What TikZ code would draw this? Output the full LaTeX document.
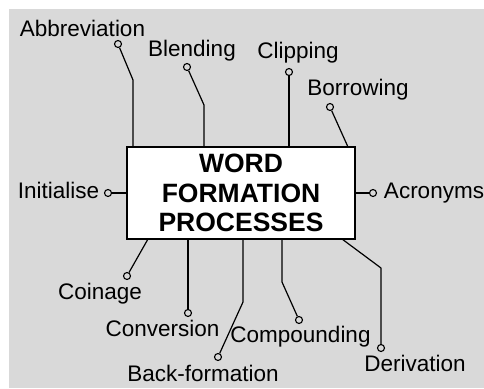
\documentclass[tikz,border=0pt]{standalone}
\usepackage{fontspec}
\setmainfont{Liberation Sans}
\definecolor{bggray}{RGB}{217,217,217}
\tikzset{
  term/.style={anchor=base,inner sep=0pt,font=\fontsize{22.5}{26}\selectfont},
  tip/.style={circle,draw=black,line width=1.1pt,minimum size=7pt,inner sep=0pt},
  link/.style={line width=1.2pt,line join=round}
}
\begin{document}
\begin{tikzpicture}[x=1pt,y=-1pt]
\useasboundingbox (0,0) rectangle (484,388);
\fill[bggray] (9,9) rectangle (484,388);
\node[rectangle,draw=black,fill=white,line width=1.6pt,minimum width=228pt,minimum height=92pt,align=center,font=\bfseries\fontsize{26.5}{29.5}\selectfont] (wfp) at (241,193) {WORD\\FORMATION\\PROCESSES};
% top side
\node[term] (abbrev) at (82.5,36.7) {Abbreviation};
\node[tip] (abbrevtip) at (118,44) {};
\coordinate (abbrevbend) at (133,80);
\draw[link] (abbrevtip)--(abbrevbend)--(abbrevbend|-wfp.north);
\node[term] (blend) at (192,56) {Blending};
\node[tip] (blendtip) at (187,67) {};
\coordinate (blendbend) at (204,105);
\draw[link] (blendtip)--(blendbend)--(blendbend|-wfp.north);
\node[term] (clip) at (298,58) {Clipping};
\node[tip] (cliptip) at (289,72) {};
\draw[link] (cliptip)--(cliptip|-wfp.north);
\node[term] (borrow) at (358,95) {Borrowing};
\node[tip] (borrowtip) at (330,107) {};
\coordinate (borrowend) at (348,147);
\draw[link] (borrowtip)--(borrowend);
% left and right
\node[term] (init) at (58.5,198) {Initialise};
\node[tip] (inittip) at (108,193) {};
\draw[link] (inittip)--(inittip-|wfp.west);
\node[term] (acro) at (434,198) {Acronyms};
\node[tip] (acrotip) at (373,193) {};
\draw[link] (acrotip)--(acrotip-|wfp.east);
% bottom side
\node[term] (coin) at (100,299) {Coinage};
\node[tip] (cointip) at (127,276) {};
\coordinate (coinend) at (148,239);
\draw[link] (cointip)--(coinend);
\node[term] (conv) at (162.5,336) {Conversion};
\node[tip] (convtip) at (188,313) {};
\draw[link] (convtip)--(convtip|-wfp.south);
\node[term] (back) at (203,381) {Back-formation};
\node[tip] (backtip) at (218,357) {};
\coordinate (backbend) at (243,302);
\draw[link] (backtip)--(backbend)--(backbend|-wfp.south);
\node[term] (comp) at (300.5,342) {Compounding};
\node[tip] (comptip) at (299,320) {};
\coordinate (compbend) at (282,282);
\draw[link] (comptip)--(compbend)--(compbend|-wfp.south);
\node[term] (deriv) at (415,371) {Derivation};
\node[tip] (derivtip) at (381,348) {};
\coordinate (derivbend) at (381,268);
\coordinate (derivend) at (342,239);
\draw[link] (derivtip)--(derivbend)--(derivend);
\end{tikzpicture}
\end{document}
